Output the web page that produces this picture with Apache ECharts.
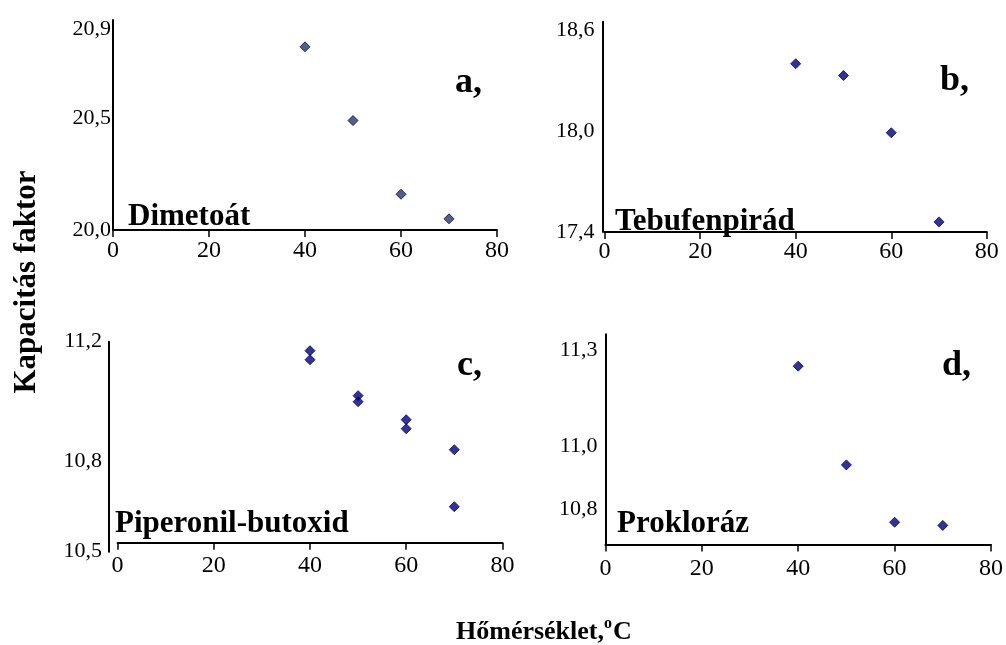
<!DOCTYPE html>
<html>
<head>
<meta charset="utf-8">
<script src="https://cdn.jsdelivr.net/npm/echarts@6/dist/echarts.min.js"></script>
<style>
  html, body { margin: 0; padding: 0; background: #fff; }
  #chart { width: 1006px; height: 645px; }
</style>
</head>
<body>
<div id="chart"></div>
<script>
// Temperatures (°C) at which the capacity factors were measured
const temps = [40, 50, 60, 70];

// a, Dimetoát
const dimetoat = [20.82, 20.49, 20.16, 20.05];
// b, Tebufenpirád
const tebufenpirad = [18.40, 18.33, 17.99, 17.46];
// c, Piperonil-butoxid (two parallel measurements per temperature)
const piperonilTemps = [40, 40, 50, 50, 60, 60, 70, 70];
const piperonil = [11.17, 11.14, 11.02, 11.00, 10.94, 10.91, 10.84, 10.65];
// d, Prokloráz
const prokloraz = [11.25, 10.94, 10.76, 10.75];

// Tick labels of the value axes
const ticksA = [20.0, 20.5, 20.9];
const ticksB = [17.4, 18.0, 18.6];
const ticksC = [10.5, 10.8, 11.2];
const ticksD = [10.8, 11.0, 11.3];
const xTicks = [0, 20, 40, 60, 80];

const SERIF = 'Liberation Serif';
const commaFmt = v => v.toFixed(1).replace('.', ',');
const pairs = (xs, ys) => ys.map((y, i) => [xs[i], y]);

const chart = echarts.init(document.getElementById('chart'), null, { renderer: 'canvas' });

function xAxisFor(gridIndex, offset, margin) {
  return {
    type: 'value', gridIndex, min: xTicks[0], max: xTicks[xTicks.length - 1],
    interval: xTicks[1] - xTicks[0], offset: offset || 0,
    axisLine: { onZero: false, lineStyle: { color: '#000', width: 2 } },
    axisTick: { show: true, inside: false, length: 7, lineStyle: { color: '#000', width: 1.5 } },
    axisLabel: { color: '#000', fontFamily: SERIF, fontSize: 24, margin },
    splitLine: { show: false }
  };
}
function yAxisFor(gridIndex, min, max, ticks, margin, offset) {
  return {
    type: 'value', gridIndex, min, max, offset: offset || 0,
    axisLine: { show: true, onZero: false, lineStyle: { color: '#000', width: 2 } },
    axisTick: { show: false },
    axisLabel: { color: '#000', fontFamily: SERIF, fontSize: 22, margin,
                 customValues: ticks, formatter: commaFmt },
    splitLine: { show: false }
  };
}
function scatter(i, data, fill) {
  return {
    type: 'scatter', xAxisIndex: i, yAxisIndex: i, data,
    symbol: 'diamond', symbolSize: [10, 10],
    itemStyle: { color: fill, borderColor: '#000080', borderWidth: 1 },
    silent: true
  };
}
function label(text, x, y, size, extra) {
  return Object.assign({
    type: 'text', x, y,
    style: { text, fontFamily: SERIF, fontWeight: 'bold', fontSize: size, fill: '#000',
             align: 'left', verticalAlign: 'middle' }
  }, extra || {});
}

chart.setOption({
  animation: false,
  backgroundColor: '#fff',
  grid: [
    { left: 113, top: 20, width: 384, height: 210 },
    { left: 604.6, top: 21.7, width: 382.2, height: 210.3 },
    { left: 117.6, top: 341.7, width: 384.8, height: 210 },
    { left: 605.4, top: 334.3, width: 385.8, height: 210.2 }
  ],
  xAxis: [xAxisFor(0, 0, 9), xAxisFor(1, 0, 8), xAxisFor(2, -9, 11), xAxisFor(3, 0, 12)],
  yAxis: [
    yAxisFor(0, 20.0, 20.94, ticksA, 2),
    yAxisFor(1, 17.4, 18.65, ticksB, 8, 2),
    yAxisFor(2, 10.5, 11.2, ticksC, 7, 8.6),
    yAxisFor(3, 10.69, 11.35, ticksD, 8)
  ],
  series: [
    scatter(0, pairs(temps, dimetoat), '#283a62'),
    scatter(1, pairs(temps, tebufenpirad), '#000078'),
    scatter(2, pairs(piperonilTemps, piperonil), '#000078'),
    scatter(3, pairs(temps, prokloraz), '#000078')
  ],
  graphic: [
    label('Dimetoát', 128, 217, 31),
    label('Tebufenpirád', 615, 222, 31),
    label('Piperonil-butoxid', 115, 524, 31),
    label('Prokloráz', 617, 524, 31),
    label('a,', 455, 83, 36),
    label('b,', 940, 81, 36),
    label('c,', 457, 366, 36),
    label('d,', 942, 366, 36),
    label('Kapacitás faktor', 27, 282, 31,
          { rotation: Math.PI / 2, style: { text: 'Kapacitás faktor', fontFamily: SERIF, fontWeight: 'bold',
            fontSize: 31, fill: '#000', align: 'center', verticalAlign: 'middle' } }),
    label('Hőmérséklet,', 456, 632, 26),
    label('o', 604, 624, 16),
    label('C', 613, 632, 26)
  ]
});
</script>
</body>
</html>
